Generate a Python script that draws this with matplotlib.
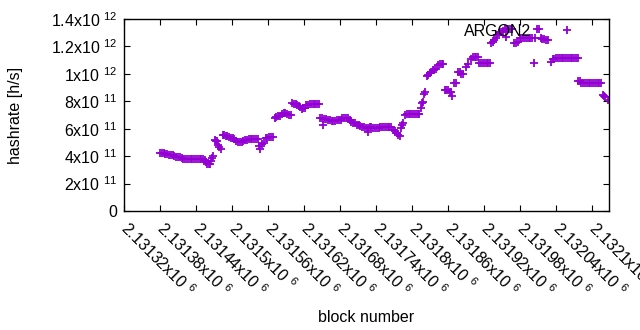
"""Scatter of ARGON2 hashrate against block number (gnuplot look)."""
import matplotlib
matplotlib.use('Agg')
import matplotlib.pyplot as plt

plt.rcParams['font.family'] = ['Liberation Sans', 'DejaVu Sans']
plt.rcParams['mathtext.fontset'] = 'custom'
plt.rcParams['mathtext.rm'] = 'Liberation Sans'

# block number and hashrate (in units of 1e11 h/s)
block = [
    2131380, 2131383, 2131386, 2131389, 2131392, 2131395, 2131398, 2131401,
    2131404, 2131407, 2131410, 2131413, 2131416, 2131419, 2131422, 2131425,
    2131428, 2131431, 2131434, 2131437, 2131440, 2131443, 2131446, 2131449,
    2131452, 2131455, 2131457, 2131459, 2131461, 2131463, 2131465, 2131467,
    2131469, 2131471, 2131473, 2131475, 2131477, 2131479, 2131481, 2131485,
    2131487, 2131490, 2131492, 2131495, 2131498, 2131501, 2131504, 2131507,
    2131510, 2131513, 2131516, 2131519, 2131522, 2131525, 2131528, 2131531,
    2131534, 2131537, 2131540, 2131543, 2131545, 2131547, 2131550, 2131553,
    2131556, 2131559, 2131562, 2131565, 2131568, 2131571, 2131574, 2131577,
    2131580, 2131583, 2131586, 2131589, 2131592, 2131595, 2131598, 2131600,
    2131603, 2131606, 2131608, 2131611, 2131614, 2131616, 2131618, 2131621,
    2131624, 2131627, 2131630, 2131633, 2131636, 2131639, 2131642, 2131645,
    2131647, 2131650, 2131652, 2131654, 2131657, 2131660, 2131663, 2131666,
    2131669, 2131672, 2131675, 2131678, 2131681, 2131684, 2131687, 2131690,
    2131693, 2131696, 2131699, 2131702, 2131705, 2131708, 2131711, 2131714,
    2131717, 2131720, 2131723, 2131726, 2131727, 2131729, 2131732, 2131735,
    2131738, 2131741, 2131744, 2131747, 2131750, 2131753, 2131756, 2131759,
    2131762, 2131765, 2131768, 2131771, 2131774, 2131777, 2131779, 2131781,
    2131783, 2131785, 2131788, 2131791, 2131794, 2131797, 2131800, 2131803,
    2131806, 2131809, 2131812, 2131814, 2131816, 2131818, 2131820, 2131822,
    2131824, 2131826, 2131829, 2131831, 2131834, 2131837, 2131840, 2131843,
    2131846, 2131849, 2131852, 2131854, 2131857, 2131860, 2131863, 2131865,
    2131867, 2131870, 2131873, 2131876, 2131879, 2131882, 2131885, 2131890,
    2131893, 2131898, 2131901, 2131904, 2131907, 2131910, 2131912, 2131915,
    2131918, 2131921, 2131924, 2131927, 2131930, 2131932, 2131934, 2131936,
    2131939, 2131942, 2131945, 2131948, 2131951, 2131954, 2131956, 2131957,
    2131960, 2131963, 2131966, 2131970, 2131973, 2131976, 2131979, 2131982,
    2131985, 2131988, 2131991, 2131994, 2131997, 2132000, 2132003, 2132004,
    2132008, 2132011, 2132014, 2132017, 2132020, 2132023, 2132026, 2132032,
    2132034, 2132037, 2132040, 2132043, 2132046, 2132049, 2132052, 2132055,
    2132058, 2132061, 2132064, 2132067, 2132070, 2132073, 2132076, 2132077,
    2132079, 2132082, 2132085, 2132088, 2132091, 2132094, 2132097, 2132100,
    2132103, 2132106, 2132109, 2132112, 2132115, 2132118, 2132120, 2132122,
    2132126,
]
hashrate = [
    4.23, 4.22, 4.21, 4.19, 4.12, 4.10, 4.08, 4.05,
    3.98, 3.96, 3.95, 3.92, 3.86, 3.82, 3.78, 3.78,
    3.77, 3.77, 3.77, 3.77, 3.77, 3.77, 3.77, 3.76,
    3.76, 3.72, 3.55, 3.45, 3.42, 3.40, 3.65, 3.86,
    3.98, 5.15, 5.12, 5.08, 4.80, 4.67, 4.55, 5.56,
    5.54, 5.50, 5.45, 5.40, 5.35, 5.30, 5.25, 5.10,
    5.05, 5.03, 5.02, 5.12, 5.15, 5.18, 5.22, 5.24,
    5.25, 5.25, 5.25, 5.24, 4.75, 4.55, 4.90, 4.98,
    5.30, 5.35, 5.40, 5.42, 5.42, 6.80, 6.85, 6.90,
    6.95, 7.10, 7.17, 7.15, 7.05, 7.00, 7.00, 7.85,
    7.83, 7.80, 7.70, 7.65, 7.60, 7.44, 7.50, 7.48,
    7.70, 7.75, 7.78, 7.78, 7.78, 7.78, 7.78, 7.78,
    6.76, 6.75, 6.27, 6.72, 6.70, 6.65, 6.60, 6.55,
    6.55, 6.58, 6.60, 6.62, 6.62, 6.75, 6.78, 6.80,
    6.78, 6.60, 6.50, 6.45, 6.42, 6.30, 6.25, 6.20,
    6.15, 6.10, 6.05, 6.08, 5.75, 6.12, 6.10, 6.08,
    6.05, 6.05, 6.08, 6.10, 6.12, 6.12, 6.10, 6.10,
    6.15, 6.12, 5.92, 5.85, 5.72, 5.55, 5.45, 6.05,
    6.27, 6.40, 7.00, 7.05, 7.05, 7.05, 7.05, 7.05,
    7.05, 7.05, 7.05, 7.50, 7.85, 7.92, 8.55, 8.70,
    9.85, 9.95, 10.05, 10.15, 10.25, 10.30, 10.35, 10.65,
    10.70, 10.70, 10.72, 8.85, 8.82, 8.80, 8.70, 8.65,
    8.38, 9.30, 9.35, 10.10, 10.15, 10.00, 9.98, 10.50,
    10.70, 11.10, 11.20, 11.25, 11.25, 11.25, 10.78, 10.77,
    10.77, 10.77, 10.77, 10.77, 10.77, 12.25, 12.30, 12.45,
    12.60, 12.80, 13.00, 13.07, 13.15, 13.25, 12.70, 13.28,
    13.30, 13.30, 13.28, 12.25, 12.23, 12.30, 12.59, 12.59,
    12.59, 12.59, 12.59, 12.59, 12.59, 12.59, 10.77, 12.59,
    13.28, 13.30, 12.60, 12.54, 12.54, 12.50, 12.50, 10.89,
    11.05, 11.10, 11.12, 11.12, 11.12, 11.12, 11.12, 11.12,
    11.12, 11.12, 11.12, 11.12, 11.12, 11.12, 11.12, 9.50,
    9.45, 9.31, 9.31, 9.31, 9.31, 9.31, 9.31, 9.31,
    9.31, 9.31, 9.31, 9.31, 9.31, 8.46, 8.40, 8.29,
    8.10,
]

x_ticks = [2131320, 2131380, 2131440, 2131500, 2131560, 2131620, 2131680,
           2131740, 2131800, 2131860, 2131920, 2131980, 2132040, 2132100]
x_tick_labels = ['2.13132', '2.13138', '2.13144', '2.1315', '2.13156',
                 '2.13162', '2.13168', '2.13174', '2.1318', '2.13186',
                 '2.13192', '2.13198', '2.13204', '2.1321']
y_ticks = [0, 2, 4, 6, 8, 10, 12, 14]
y_tick_labels = ['0', '2x10 $^{11}$', '4x10 $^{11}$', '6x10 $^{11}$',
                 '8x10 $^{11}$', '1x10 $^{12}$', '1.2x10 $^{12}$',
                 '1.4x10 $^{12}$']

color = '#9400d3'
fs = 11.5

fig = plt.figure(figsize=(6.4, 3.3), dpi=100)
ax = fig.add_axes([124 / 640, 1 - 211 / 330, (609 - 124) / 640, (211 - 19) / 330])

ax.plot(block, hashrate, linestyle='none', marker='+', markersize=5.4,
        markeredgewidth=1.3, color=color, label='ARGON2')

ax.set_xlim(2131320, 2132128)
ax.set_ylim(0, 14)
ax.set_xticks(x_ticks)
ax.set_xticklabels([lab + 'x10 $^{6}$' for lab in x_tick_labels],
                   rotation=-45, ha='left', va='center', rotation_mode='anchor',
                   fontsize=fs)
ax.set_yticks(y_ticks)
ax.set_yticklabels(y_tick_labels, fontsize=fs)
ax.tick_params(direction='in', top=True, right=True, length=4, width=0.8,
               color='black', pad=5)
ax.tick_params(axis='x', pad=10)
for sp in ax.spines.values():
    sp.set_linewidth(1.0)

ax.set_xlabel('block number', fontsize=fs)
ax.set_ylabel('hashrate [h/s]', fontsize=fs)
ax.xaxis.set_label_coords(0.5, -0.516)
ax.yaxis.set_label_coords(-0.208, 0.5)

ax.legend(loc='upper right', bbox_to_anchor=(0.946, 0.974), frameon=False,
          markerfirst=False, fontsize=fs, handlelength=2.0,
          handletextpad=1.25, borderaxespad=0.0, borderpad=0.0)

fig.savefig('out.png', dpi=100)
